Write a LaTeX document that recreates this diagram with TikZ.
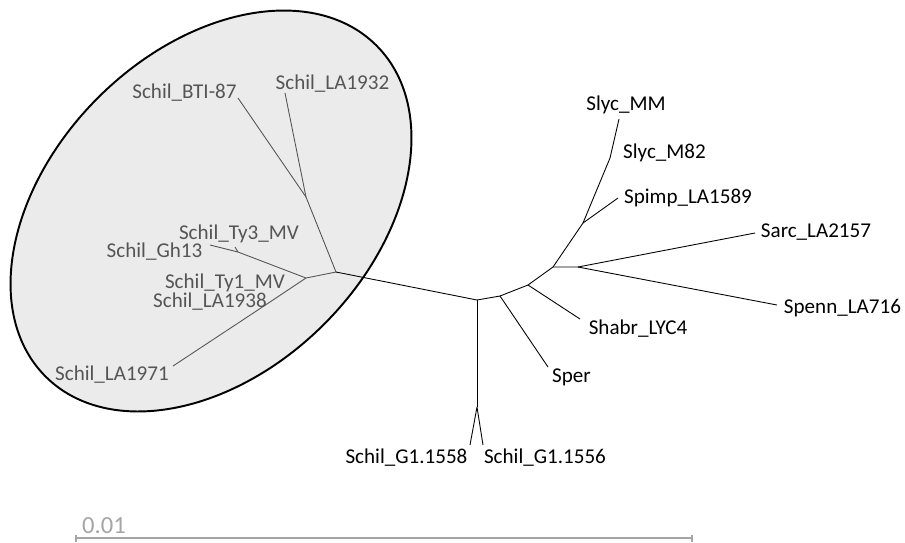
\documentclass[tikz,border=0pt]{standalone}
\usepackage{fontspec}
\setmainfont{Carlito}
\usetikzlibrary{arrows.meta}
\definecolor{cladefill}{RGB}{235,235,235}
\definecolor{cladeink}{RGB}{85,85,85}
\definecolor{barink}{RGB}{165,165,165}
\begin{document}
\begin{tikzpicture}[x=0.02cm, y=-0.02cm, font=\fontsize{12}{14}\selectfont,
  br/.style={draw=black, line width=0.5pt, line join=round},
  cbr/.style={draw=cladeink, line width=0.5pt, line join=round},
  tip/.style={anchor=base, inner sep=0pt, text=black},
  ctip/.style={anchor=base, inner sep=0pt, text=cladeink}]
\useasboundingbox (0,0) rectangle (905,542);
\filldraw[fill=cladefill, draw=black, line width=1.1pt, rotate around={45:(211,211)}]
  (211,211) ellipse (234 and 160);
\coordinate (bti) at (238,98);
\coordinate (la32) at (285,93);
\coordinate (n1) at (306,197);
\coordinate (na) at (336,272);
\coordinate (nb) at (306,278);
\coordinate (nd) at (238,252);
\coordinate (ty3) at (235,247);
\coordinate (gh13) at (210,245);
\coordinate (ne) at (270,302);
\coordinate (la71) at (173,366);
\coordinate (nc) at (477,300);
\coordinate (ng) at (477,407);
\coordinate (g58) at (470,445);
\coordinate (g56) at (483,445);
\coordinate (nf) at (500,296);
\coordinate (nh) at (528,285);
\coordinate (ni) at (553,267);
\coordinate (nj) at (578,267);
\coordinate (nk) at (583,223);
\coordinate (nm) at (610,158);
\coordinate (sper) at (548,367);
\coordinate (shabr) at (580,319);
\coordinate (sarc) at (755,233);
\coordinate (spenn) at (777,305);
\coordinate (spimp) at (618,198);
\coordinate (mm) at (619,119);
\coordinate (sb1) at (75,538);
\coordinate (sb2) at (693,538);
\draw[cbr] (bti) -- (n1) -- (na);
\draw[cbr] (la32) -- (n1);
\draw[cbr] (na) -- (nb);
\draw[cbr] (nb) -- (nd) -- (gh13);
\draw[cbr] (nd) -- (ty3);
\draw[cbr] (nb) -- (ne) -- (la71);
\draw[br] (na) -- (nc);
\draw[br] (nc) -- (ng);
\draw[br] (g58) -- (ng) -- (g56);
\draw[br] (nc) -- (nf) -- (nh) -- (ni) -- (nj);
\draw[br] (nf) -- (sper);
\draw[br] (nh) -- (shabr);
\draw[br] (nj) -- (sarc);
\draw[br] (nj) -- (spenn);
\draw[br] (ni) -- (nk) -- (nm) -- (mm);
\draw[br] (nk) -- (spimp);
\node[ctip] (tla32) at (332.5,89) {Schil\_LA1932};
\node[ctip] (tbti) at (184.5,98) {Schil\_BTI-87};
\node[ctip] (tty3) at (239,239) {Schil\_Ty3\_MV};
\node[ctip] (tgh13) at (154.5,257) {Schil\_Gh13};
\node[ctip] (tty1) at (225,288) {Schil\_Ty1\_MV};
\node[ctip] (tla38) at (210,307) {Schil\_LA1938};
\node[ctip] (tla71) at (112,380) {Schil\_LA1971};
\node[tip] (tmm) at (626,110) {Slyc\_MM};
\node[tip] (tm82) at (664.5,158) {Slyc\_M82};
\node[tip] (tspimp) at (688,203) {Spimp\_LA1589};
\node[tip] (tsarc) at (816,237) {Sarc\_LA2157};
\node[tip] (tspenn) at (842.5,313) {Spenn\_LA716};
\node[tip] (tshabr) at (638,334) {Shabr\_LYC4};
\node[tip] (tsper) at (571.5,382) {Sper};
\node[tip] (tg58) at (406.5,463) {Schil\_G1.1558};
\node[tip] (tg56) at (545,463) {Schil\_G1.1556};
\draw[draw=barink, line width=1pt, {Bar[width=4pt]}-{Bar[width=4pt]}] (sb1) -- (sb2);
\node[anchor=base, inner sep=0pt, text=barink, font=\fontsize{14}{16}\selectfont] (tsb) at (104,533) {0.01};
\end{tikzpicture}
\end{document}
